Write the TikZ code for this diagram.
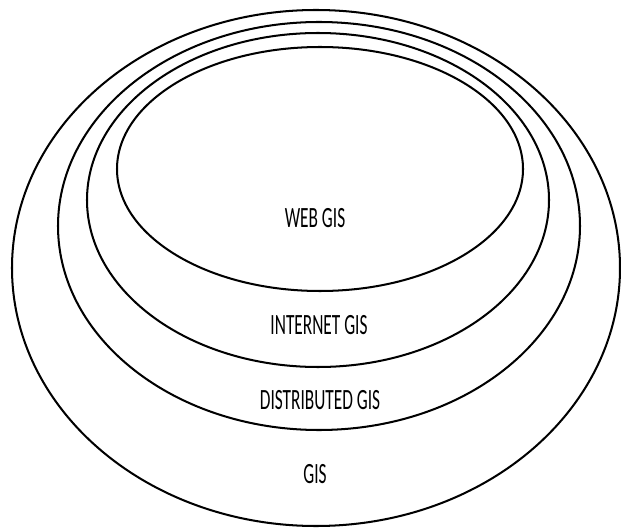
\documentclass[tikz,border=0pt]{standalone}
\usepackage{fontspec}
\setmainfont{Carlito}
\usepackage{tikz}
\usetikzlibrary{positioning}

\begin{document}
\begin{tikzpicture}[x=0.04cm,y=-0.04cm,
    ring/.style={line width=2.3pt},
    lbl/.style={anchor=base,inner sep=0pt,yscale=1.7,font=\fontsize{19.7pt}{20pt}\selectfont}]
  \useasboundingbox (0,0) rectangle (621,529);
  % nested rings
  \draw[ring] (316,268) ellipse [x radius=304, y radius=258];
  \draw[ring] (319,226) ellipse [x radius=261, y radius=204];
  \draw[ring] (318,200) ellipse [x radius=231, y radius=167];
  \draw[ring] (320,169) ellipse [x radius=203, y radius=122];
  % labels
  \node[lbl] (web) at (315,228) {WEB GIS};
  \node[lbl] (internet) at (319,334) {INTERNET GIS};
  \node[lbl] (distributed) at (320,409) {DISTRIBUTED GIS};
  \node[lbl] (gis) at (315,483) {GIS};
\end{tikzpicture}
\end{document}
